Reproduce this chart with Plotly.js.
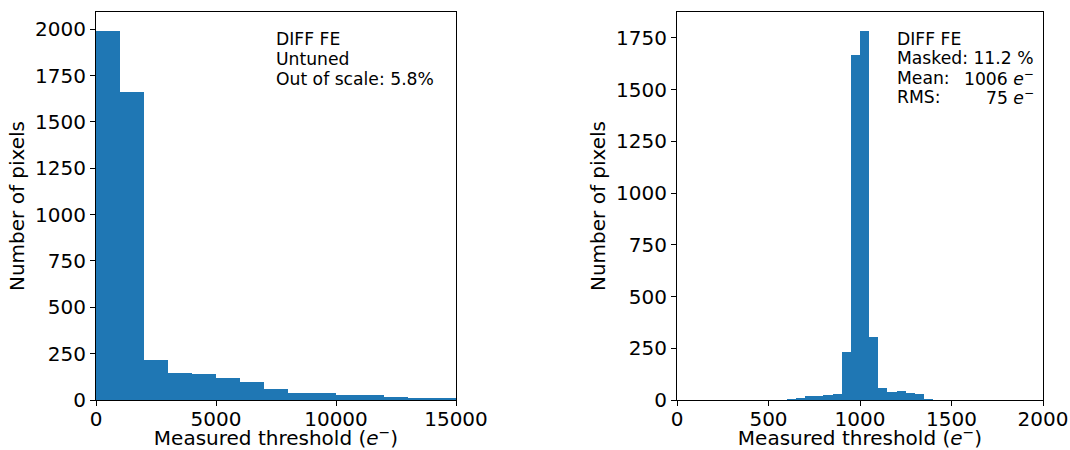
<!DOCTYPE html>
<html>
<head>
<meta charset="utf-8">
<script src="https://cdn.plot.ly/plotly-3.0.1.min.js"></script>
<style>
  html, body { margin: 0; padding: 0; background: #fff; }
  #chart { width: 1070px; height: 450px; }
</style>
</head>
<body>
<div id="chart"></div>
<script>
// Untuned threshold distribution: 1000 e- bins from 0 to 15000
const untunedEdges = [0, 1000, 2000, 3000, 4000, 5000, 6000, 7000, 8000, 9000, 10000, 11000, 12000, 13000, 14000, 15000];
const untunedCounts = [1993, 1662, 217, 144, 138, 121, 99, 61, 40, 40, 29, 29, 18, 13, 13];

// Tuned threshold distribution: 50 e- bins from 0 to 2000
const tunedEdges = [0, 50, 100, 150, 200, 250, 300, 350, 400, 450, 500, 550, 600, 650, 700, 750, 800, 850, 900, 950,
                    1000, 1050, 1100, 1150, 1200, 1250, 1300, 1350, 1400, 1450, 1500, 1550, 1600, 1650, 1700, 1750,
                    1800, 1850, 1900, 1950, 2000];
const tunedCounts = [0, 0, 0, 0, 0, 0, 0, 0, 2, 0, 1, 1, 5, 10, 21, 21, 26, 30, 234, 1665,
                     1785, 305, 60, 39, 43, 35, 29, 6, 2, 2, 0, 0, 0, 0, 0, 0, 0, 0, 0, 0];

const leftTicks = [0, 250, 500, 750, 1000, 1250, 1500, 1750, 2000];
const rightTicks = [0, 250, 500, 750, 1000, 1250, 1500, 1750];
const leftXTicks = [0, 5000, 10000, 15000];
const rightXTicks = [0, 500, 1000, 1500, 2000];

const leftText = ['DIFF FE', 'Untuned', 'Out of scale: 5.8%'];
const rightLabels = ['DIFF FE', 'Masked: 11.2 %', 'Mean:', 'RMS:'];
const rightValues = ['', '', '1006 <i>e</i><sup>−</sup>', '75 <i>e</i><sup>−</sup>'];

const BLUE = '#1f77b4';
const W = 1070, H = 450;
const FONT = 'DejaVu Sans, sans-serif';
// plot area in page pixels
const M = { l: 96, r: 27, t: 12, b: 50 };
const PW = W - M.l - M.r;

function binTrace(edges, counts, xa, ya) {
  const centers = counts.map((_, i) => (edges[i] + edges[i + 1]) / 2);
  const widths = counts.map((_, i) => edges[i + 1] - edges[i]);
  return {
    type: 'bar', x: centers, y: counts, width: widths,
    xaxis: xa, yaxis: ya,
    marker: { color: BLUE, line: { width: 0 } },
    hoverinfo: 'x+y', showlegend: false
  };
}

// page pixel -> paper fraction
const px = x => (x - M.l) / PW;
const py = y => 1 - (y - M.t) / (H - M.t - M.b);

const axisCommon = {
  showline: true, mirror: true, linecolor: '#000', linewidth: 1,
  ticks: 'outside', ticklen: 5, tickwidth: 1, tickcolor: '#000',
  showgrid: false, zeroline: false,
  tickfont: { family: FONT, size: 20, color: '#000' },
  fixedrange: true
};
const titleFont = { family: FONT, size: 20, color: '#000' };

const annotations = [];
const textFont = { family: FONT, size: 17.2, color: '#000' };
leftText.forEach((t, i) => annotations.push({
  xref: 'paper', yref: 'paper', x: px(274), y: py(39 + 20 * i),
  xanchor: 'left', yanchor: 'middle', showarrow: false, text: t, font: textFont
}));
rightLabels.forEach((t, i) => annotations.push({
  xref: 'paper', yref: 'paper', x: px(895), y: py(39 + 19.3 * i),
  xanchor: 'left', yanchor: 'middle', showarrow: false, text: t, font: textFont
}));
rightValues.forEach((t, i) => { if (t) annotations.push({
  xref: 'paper', yref: 'paper', x: px(1036), y: py(39 + 19.3 * i),
  xanchor: 'right', yanchor: 'middle', showarrow: false, text: t, font: textFont
}); });

const layout = {
  width: W, height: H,
  margin: M,
  paper_bgcolor: '#fff', plot_bgcolor: '#fff',
  bargap: 0,
  font: { family: FONT, color: '#000' },
  xaxis: Object.assign({}, axisCommon, {
    domain: [px(96), px(456)], range: [0, 15000],
    tickvals: leftXTicks, ticktext: leftXTicks.map(String), anchor: 'y',
    ticklabelstandoff: -4,
    title: { text: 'Measured threshold (<i>e</i><sup>−</sup>)', font: titleFont, standoff: 7 }
  }),
  yaxis: Object.assign({}, axisCommon, {
    domain: [0, 1], range: [0, 2093],
    tickvals: leftTicks, ticktext: leftTicks.map(String), anchor: 'x',
    title: { text: 'Number of pixels', font: titleFont, standoff: 5 }
  }),
  xaxis2: Object.assign({}, axisCommon, {
    domain: [px(677), px(1043)], range: [0, 2000],
    tickvals: rightXTicks, ticktext: rightXTicks.map(String), anchor: 'y2',
    ticklabelstandoff: -4,
    title: { text: 'Measured threshold (<i>e</i><sup>−</sup>)', font: titleFont, standoff: 7 }
  }),
  yaxis2: Object.assign({}, axisCommon, {
    domain: [0, 1], range: [0, 1875],
    tickvals: rightTicks, ticktext: rightTicks.map(String), anchor: 'x2',
    title: { text: 'Number of pixels', font: titleFont, standoff: 5 }
  }),
  annotations: annotations
};

Plotly.newPlot('chart', [
  binTrace(untunedEdges, untunedCounts, 'x', 'y'),
  binTrace(tunedEdges, tunedCounts, 'x2', 'y2')
], layout, { displayModeBar: false, staticPlot: true });
</script>
</body>
</html>
